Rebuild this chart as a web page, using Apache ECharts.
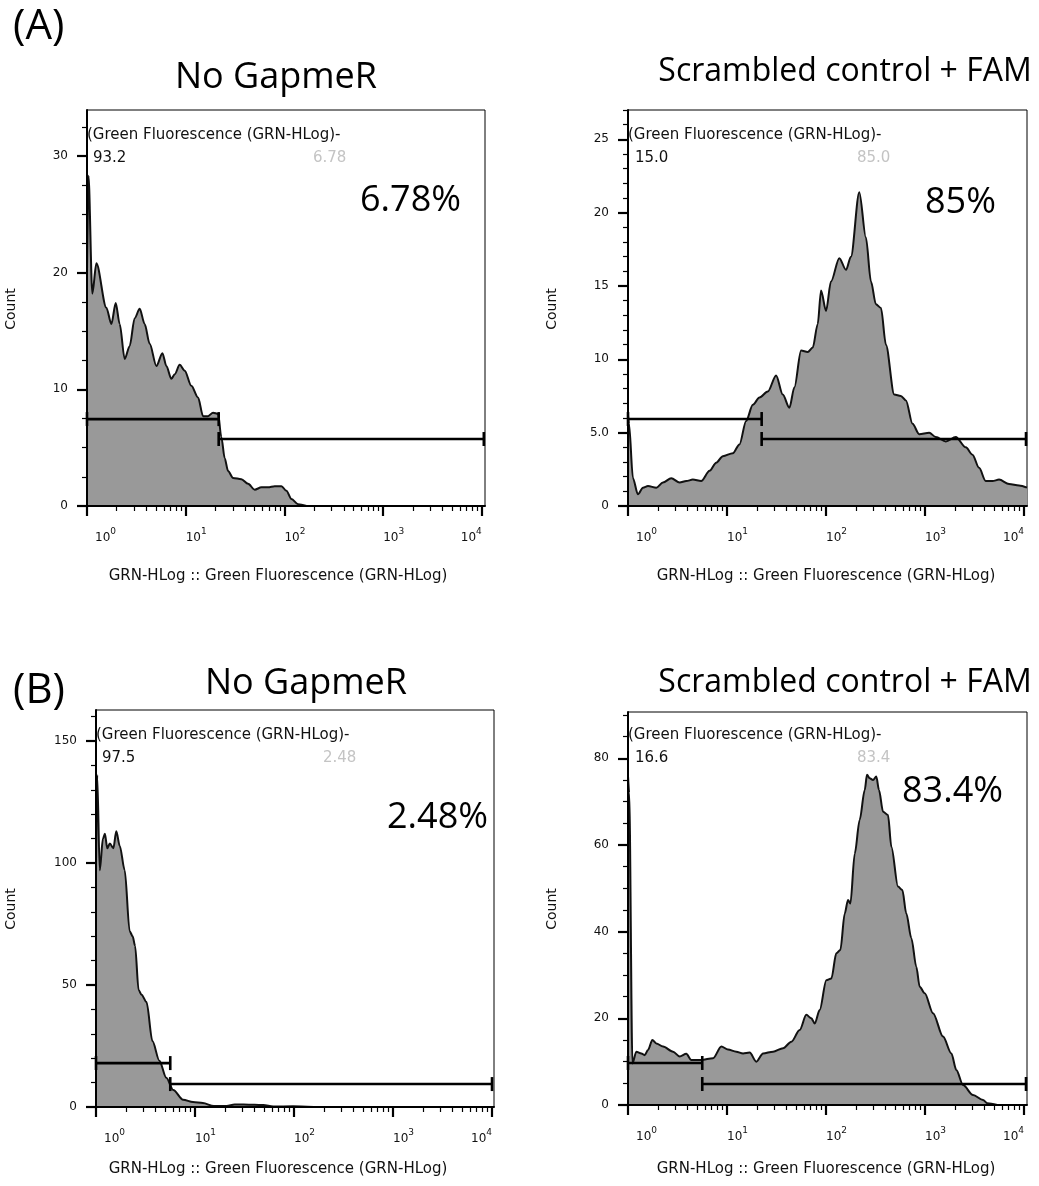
<!DOCTYPE html>
<html>
<head>
<meta charset="utf-8">
<script src="https://cdn.jsdelivr.net/npm/echarts@6/dist/echarts.min.js"></script>
<style>
  html, body { margin: 0; padding: 0; background: #fff; }
  #chart { width: 1039px; height: 1186px; }
</style>
</head>
<body>
<div id="chart"></div>
<script>
// ---- Histogram traces: [log10(GRN-HLog), count] ----
const histA_noGapmer = [
  [0, 20], [0.015, 28.3], [0.054, 18.2], [0.095, 20.8], [0.196, 17.0], [0.247, 15.6],
  [0.291, 17.4], [0.331, 15.6], [0.382, 12.6], [0.432, 13.7], [0.483, 16.1], [0.534, 16.9],
  [0.584, 15.6], [0.635, 13.9], [0.703, 12.0], [0.764, 13.1], [0.804, 12.0], [0.855, 10.9],
  [0.889, 11.3], [0.939, 12.1], [0.99, 11.6], [1.057, 10.3], [1.125, 9.3], [1.176, 7.7],
  [1.226, 7.7], [1.277, 8.0], [1.328, 7.9], [1.361, 5.9], [1.395, 4.1], [1.429, 3.0],
  [1.48, 2.4], [1.564, 2.3], [1.632, 1.9], [1.699, 1.4], [1.767, 1.6], [1.834, 1.6],
  [1.902, 1.7], [1.97, 1.7], [2.02, 1.3], [2.071, 0.6], [2.139, 0.15], [2.223, 0]
];
const histA_scrambled = [
  [0, 6.2], [0.01, 5.6], [0.05, 1.9], [0.1, 0.8], [0.151, 1.25], [0.202, 1.36], [0.286, 1.25],
  [0.353, 1.6], [0.437, 1.9], [0.521, 1.6], [0.588, 1.7], [0.655, 1.8], [0.739, 1.7],
  [0.824, 2.4], [0.891, 2.95], [0.958, 3.4], [1.059, 3.6], [1.126, 4.2], [1.193, 5.8],
  [1.261, 6.9], [1.328, 7.4], [1.412, 7.8], [1.496, 8.9], [1.563, 7.6], [1.63, 6.7],
  [1.681, 8.1], [1.748, 10.6], [1.815, 10.5], [1.866, 10.8], [1.916, 12.4], [1.95, 14.7],
  [2.0, 13.3], [2.05, 15.3], [2.134, 16.9], [2.202, 16.1], [2.252, 17.0], [2.336, 21.4],
  [2.403, 18.3], [2.454, 15.3], [2.504, 13.75], [2.555, 13.5], [2.605, 11.0], [2.689, 7.6],
  [2.756, 7.5], [2.807, 7.2], [2.874, 5.6], [2.941, 4.9], [3.042, 5.0], [3.109, 4.7],
  [3.21, 4.4], [3.311, 4.7], [3.412, 4.0], [3.479, 3.5], [3.546, 2.6], [3.613, 1.7],
  [3.681, 1.7], [3.748, 1.8], [3.849, 1.5], [3.95, 1.4], [4.03, 1.25]
];
const histB_noGapmer = [
  [0, 100], [0.012, 136], [0.038, 97], [0.07, 110], [0.09, 112], [0.114, 106], [0.14, 108],
  [0.175, 106], [0.205, 113], [0.24, 107], [0.29, 97], [0.34, 72], [0.37, 70], [0.395, 66],
  [0.43, 48], [0.46, 46], [0.51, 43], [0.57, 27], [0.64, 19], [0.71, 12], [0.78, 7],
  [0.88, 3], [0.98, 2], [1.08, 1.6], [1.19, 0.4], [1.32, 0.4], [1.4, 1.0], [1.49, 1.0],
  [1.6, 0.9], [1.69, 0.8], [1.79, 0.2], [1.99, 0.3], [2.2, 0]
];
const histB_scrambled = [
  [0, 76], [0.012, 72], [0.045, 9.6], [0.084, 12.3], [0.135, 11.9], [0.168, 11.5],
  [0.202, 12.7], [0.246, 15], [0.286, 14.2], [0.354, 13.5], [0.455, 12.3], [0.522, 11.2],
  [0.589, 11.8], [0.64, 10.4], [0.741, 10.4], [0.859, 10.8], [0.943, 13.5], [1.01, 12.8],
  [1.094, 12.3], [1.162, 11.9], [1.229, 12.1], [1.296, 10], [1.364, 11.9], [1.465, 12.3],
  [1.566, 13.1], [1.65, 14.6], [1.734, 17.3], [1.801, 20.8], [1.852, 20], [1.886, 18.8],
  [1.936, 21.9], [2.003, 28.8], [2.054, 29.2], [2.104, 35], [2.145, 35.8], [2.189, 44.2],
  [2.222, 47.3], [2.246, 46.5], [2.29, 58], [2.34, 65.8], [2.391, 72.7], [2.414, 76.2],
  [2.441, 75.4], [2.475, 75], [2.508, 75.8], [2.535, 72.7], [2.576, 67.7], [2.626, 66.9],
  [2.66, 59.6], [2.727, 50.4], [2.771, 49.6], [2.811, 44.2], [2.862, 38.5], [2.912, 31.9],
  [2.946, 27.3], [2.997, 25.8], [3.081, 21.2], [3.182, 15.8], [3.266, 11.9], [3.316, 8.1],
  [3.384, 4.6], [3.485, 2.3], [3.586, 1.15], [3.63, 0.4], [3.73, 0]
];

// ---- Gates: [from log10, to log10, drawn at count] ----
const gatesA_noGapmer = [[0, 1.334, 7.45], [1.334, 4.02, 5.74]];
const gatesA_scrambled = [[0, 1.35, 5.93], [1.35, 4.02, 4.57]];
const gatesB_noGapmer = [[0, 0.75, 18.0], [0.75, 4.0, 9.4]];
const gatesB_scrambled = [[0, 0.75, 9.7], [0.75, 4.02, 4.85]];

// ---- Gate statistics (negative %, positive %) and headline positive % ----
const statsA_noGapmer = ['93.2', '6.78'];
const statsA_scrambled = ['15.0', '85.0'];
const statsB_noGapmer = ['97.5', '2.48'];
const statsB_scrambled = ['16.6', '83.4'];
const positiveLabels = ['6.78%', '85%', '2.48%', '83.4%'];

// ---- Titles ----
const rowLabels = ['(A)', '(B)'];
const panelTitles = ['No GapmeR', 'Scrambled control + FAM', 'No GapmeR', 'Scrambled control + FAM'];
const gateName = '(Green Fluorescence (GRN-HLog)-';
const xAxisName = 'GRN-HLog :: Green Fluorescence (GRN-HLog)';
const yAxisName = 'Count';

// ---- Tick labels ----
const xDecades = [0, 1, 2, 3, 4];
const yTicksA_noGapmer = [0, 10, 20, 30];
const yLabelsA_noGapmer = ['0', '10', '20', '30'];
const yTicksA_scrambled = [0, 5, 10, 15, 20, 25];
const yLabelsA_scrambled = ['0', '5.0', '10', '15', '20', '25'];
const yTicksB_noGapmer = [0, 50, 100, 150];
const yLabelsB_noGapmer = ['0', '50', '100', '150'];
const yTicksB_scrambled = [0, 20, 40, 60, 80];
const yLabelsB_scrambled = ['0', '20', '40', '60', '80'];

// ---- Panel layout ----
const panels = [
  { hist: histA_noGapmer, gates: gatesA_noGapmer, stats: statsA_noGapmer,
    yTicks: yTicksA_noGapmer, yLabels: yLabelsA_noGapmer, yMinorStep: 2.5,
    box: { left: 87, top: 110, width: 398, height: 396 }, xMax: 4.032, yMax: 33.94,
    title: { x: 276, y: 78, size: 36 }, pct: { x: 360, y: 201 },
    gateText: { y: 135 }, negX: 93, posX: 313, statY: 158,
    countPos: [11, 309], xNamePos: [278, 576] },
  { hist: histA_scrambled, gates: gatesA_scrambled, stats: statsA_scrambled,
    yTicks: yTicksA_scrambled, yLabels: yLabelsA_scrambled, yMinorStep: 1,
    box: { left: 628, top: 110, width: 399, height: 396 }, xMax: 4.03, yMax: 27.0,
    title: { x: 845, y: 72, size: 32 }, pct: { x: 925, y: 203 },
    gateText: { y: 135 }, negX: 635, posX: 857, statY: 158,
    countPos: [552, 309], xNamePos: [826, 576] },
  { hist: histB_noGapmer, gates: gatesB_noGapmer, stats: statsB_noGapmer,
    yTicks: yTicksB_noGapmer, yLabels: yLabelsB_noGapmer, yMinorStep: 10,
    box: { left: 96, top: 710, width: 398, height: 397 }, xMax: 4.02, yMax: 162.7,
    title: { x: 306, y: 684, size: 36 }, pct: { x: 387, y: 818 },
    gateText: { y: 735 }, negX: 102, posX: 323, statY: 758,
    countPos: [11, 909], xNamePos: [278, 1169] },
  { hist: histB_scrambled, gates: gatesB_scrambled, stats: statsB_scrambled,
    yTicks: yTicksB_scrambled, yLabels: yLabelsB_scrambled, yMinorStep: 5,
    box: { left: 628, top: 712, width: 399, height: 393 }, xMax: 4.03, yMax: 90.7,
    title: { x: 845, y: 683, size: 32 }, pct: { x: 902, y: 792 },
    gateText: { y: 735 }, negX: 635, posX: 857, statY: 758,
    countPos: [552, 909], xNamePos: [826, 1169] }
];

const TICK_FONT = 'DejaVu Sans';
const BIG_FONT = 'Open Sans';

// log-spaced minor ticks (2..9 within each decade)
const logMinorTicks = [];
for (let d = 0; d < 4; d++) {
  for (let m = 2; m <= 9; m++) logMinorTicks.push(d + Math.log10(m));
}

function minorLinear(p) {
  const out = [];
  for (let v = p.yMinorStep; v <= p.yMax + 1e-9; v += p.yMinorStep) {
    const r = Math.round(v * 1000) / 1000;
    if (p.yTicks.indexOf(r) < 0) out.push(r);
  }
  return out;
}

// gate bar with end caps
function renderGate(params, api) {
  const y = api.value(2);
  const a = api.coord([api.value(0), y]);
  const b = api.coord([api.value(1), y]);
  const h = 7;
  const st = { stroke: '#000', lineWidth: 2.6 };
  return {
    type: 'group',
    children: [
      { type: 'line', shape: { x1: a[0], y1: a[1], x2: b[0], y2: b[1] }, style: st },
      { type: 'line', shape: { x1: a[0], y1: a[1] - h, x2: a[0], y2: a[1] + h }, style: st },
      { type: 'line', shape: { x1: b[0], y1: b[1] - h, x2: b[0], y2: b[1] + h }, style: st }
    ]
  };
}

function txt(x, y, text, o) {
  return {
    type: 'text', x: x, y: y, rotation: o.rotation || 0, z: 100,
    style: {
      text: text, fill: o.color || '#000',
      fontSize: o.size, fontFamily: o.family,
      align: o.align || 'left', verticalAlign: 'middle'
    }
  };
}

const grid = [], xAxis = [], yAxis = [], series = [], graphic = [];

graphic.push(txt(13, 27, rowLabels[0], { size: 42, family: BIG_FONT }));
graphic.push(txt(13, 691, rowLabels[1], { size: 42, family: BIG_FONT }));

panels.forEach(function (p, i) {
  grid.push(Object.assign({
    show: true, borderColor: '#000', borderWidth: 1,
    backgroundColor: 'transparent', containLabel: false, outerBoundsMode: 'none'
  }, p.box));

  // major x axis with decade labels
  xAxis.push({
    gridIndex: i, type: 'value', min: 0, max: p.xMax, position: 'bottom', z: 10,
    axisLine: { show: true, onZero: false, lineStyle: { color: '#000', width: 2 } },
    axisTick: { show: true, length: 10, customValues: xDecades, lineStyle: { color: '#000', width: 2.2 } },
    axisLabel: {
      show: true, customValues: xDecades, margin: 21, align: 'left', alignMaxLabel: 'right',
      formatter: function (v) {
        return (v === 0 ? '{b0|10}' : '{b|10}') + '{s|' + v + '}';
      },
      rich: {
        b: { fontSize: 12, fontFamily: TICK_FONT, color: '#111' },
        b0: { fontSize: 12, fontFamily: TICK_FONT, color: '#111', padding: [0, 0, 0, 8] },
        s: { fontSize: 9, fontFamily: TICK_FONT, color: '#111', padding: [0, 0, 12, 0] }
      }
    },
    splitLine: { show: false }
  });
  // minor log ticks
  xAxis.push({
    gridIndex: i, type: 'value', min: 0, max: p.xMax, position: 'bottom', z: 10,
    axisLine: { show: false, onZero: false },
    axisTick: { show: true, length: 5, customValues: logMinorTicks, lineStyle: { color: '#000', width: 1.2 } },
    axisLabel: { show: false },
    splitLine: { show: false }
  });

  yAxis.push({
    gridIndex: i, type: 'value', min: 0, max: p.yMax, position: 'left', z: 10,
    axisLine: { show: true, onZero: false, lineStyle: { color: '#000', width: 2 } },
    axisTick: { show: true, length: 10, customValues: p.yTicks, lineStyle: { color: '#000', width: 2.2 } },
    axisLabel: {
      show: true, customValues: p.yTicks, margin: 19, color: '#111',
      fontSize: 12, fontFamily: TICK_FONT,
      formatter: function (v) { return p.yLabels[p.yTicks.indexOf(v)]; }
    },
    splitLine: { show: false }
  });
  yAxis.push({
    gridIndex: i, type: 'value', min: 0, max: p.yMax, position: 'left', z: 10,
    axisLine: { show: false, onZero: false },
    axisTick: { show: true, length: 5, customValues: minorLinear(p), lineStyle: { color: '#000', width: 1.2 } },
    axisLabel: { show: false },
    splitLine: { show: false }
  });

  series.push({
    type: 'line', xAxisIndex: 2 * i, yAxisIndex: 2 * i, data: p.hist,
    showSymbol: false, symbol: 'none', smooth: 0.3, smoothMonotone: 'x',
    lineStyle: { color: '#111', width: 2 },
    areaStyle: { color: '#999999', opacity: 1 },
    silent: true, z: 2
  });
  series.push({
    type: 'custom', xAxisIndex: 2 * i, yAxisIndex: 2 * i, data: p.gates,
    renderItem: renderGate, encode: { x: [0, 1], y: 2 }, silent: true, z: 5
  });

  graphic.push(txt(p.title.x, p.title.y, panelTitles[i], { size: p.title.size, family: BIG_FONT, align: 'center' }));
  graphic.push(txt(p.pct.x, p.pct.y, positiveLabels[i], { size: 36, family: BIG_FONT }));
  graphic.push(txt(p.box.left, p.gateText.y, gateName, { size: 15, family: TICK_FONT, color: '#111' }));
  graphic.push(txt(p.negX, p.statY, p.stats[0], { size: 15, family: TICK_FONT, color: '#111' }));
  graphic.push(txt(p.posX, p.statY, p.stats[1], { size: 15, family: TICK_FONT, color: '#c4c4c4' }));
  graphic.push(txt(p.countPos[0], p.countPos[1], yAxisName, { size: 14, family: TICK_FONT, align: 'center', rotation: Math.PI / 2, color: '#111' }));
  graphic.push(txt(p.xNamePos[0], p.xNamePos[1], xAxisName, { size: 15, family: TICK_FONT, align: 'center', color: '#111' }));
});

const chart = echarts.init(document.getElementById('chart'), null, { renderer: 'canvas' });
chart.setOption({
  animation: false,
  backgroundColor: '#fff',
  grid: grid,
  xAxis: xAxis,
  yAxis: yAxis,
  series: series,
  graphic: graphic
});
</script>
</body>
</html>
